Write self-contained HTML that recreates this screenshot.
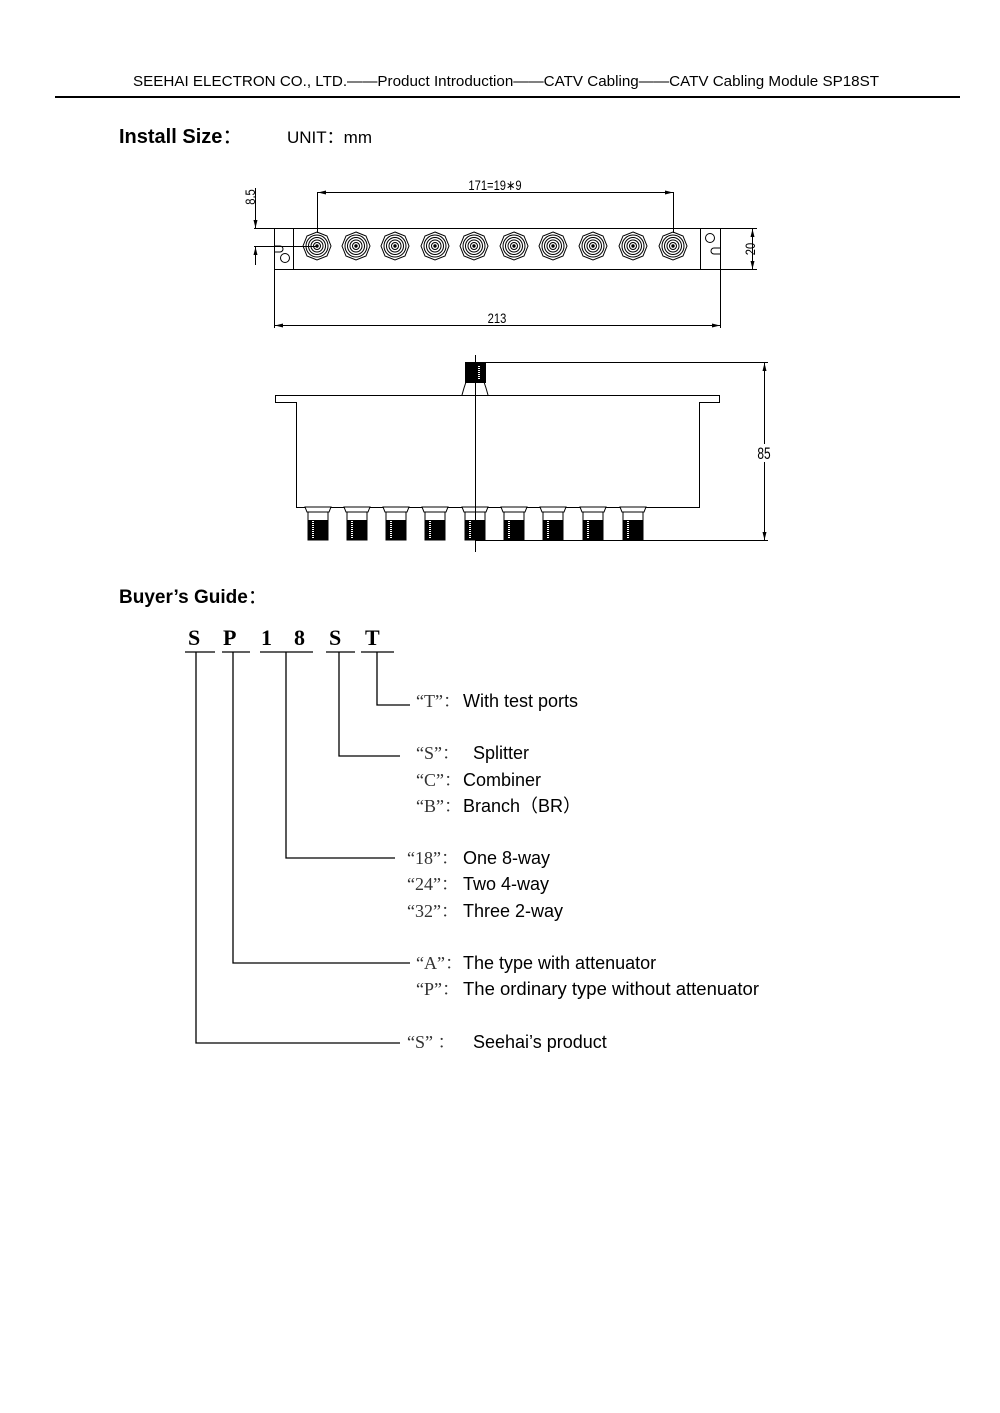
<!DOCTYPE html>
<html><head><meta charset="utf-8"><style>
html,body{margin:0;padding:0;background:#fff}
svg{display:block}
.s{font-family:"Liberation Sans","Noto Sans CJK SC",sans-serif;fill:#000}
.q{font-family:"Liberation Serif","Noto Serif CJK SC",serif;fill:#333}
.n{font-family:"Liberation Sans Narrow","Liberation Sans",sans-serif;fill:#000}
</style></head><body>
<svg width="1000" height="1413" viewBox="0 0 1000 1413" xmlns="http://www.w3.org/2000/svg">
<defs>
<g id="con" fill="none" stroke="#000" stroke-width="1">
<polygon points="0,-14 10,-10 14,0 10,10 0,14 -10,10 -14,0 -10,-10"/>
<circle r="11"/><circle r="8.5"/><circle r="6"/><circle r="3.5"/><circle r="1.2" fill="#000"/>
</g>
<g id="bc">
<path d="M-13,507 L13,507 L11,512 L-11,512 Z" fill="#fff" stroke="#000"/>
<rect x="-10" y="512" width="20" height="28" fill="#fff" stroke="#000"/>
<rect x="-10" y="520" width="20" height="20" fill="#000"/>
<line x1="-5" y1="521" x2="-5" y2="538" stroke="#fff" stroke-width="2" stroke-dasharray="1,1"/>
</g>
<marker id="ar" markerWidth="8" markerHeight="6" refX="8" refY="3" orient="auto-start-reverse"><path d="M0,1 L8,3 L0,5 Z" fill="#000"/></marker>
</defs>
<text x="506" y="86" text-anchor="middle" class="s" font-size="15" textLength="746" lengthAdjust="spacingAndGlyphs">SEEHAI ELECTRON CO., LTD.——Product Introduction——CATV Cabling——CATV Cabling Module SP18ST</text>
<line x1="55" y1="97" x2="960" y2="97" stroke="#000" stroke-width="2"/>
<text x="119" y="143" class="s" font-size="20" font-weight="bold">Install Size<tspan font-weight="normal">：</tspan></text>
<text x="287" y="143" class="s" font-size="17">UNIT：mm</text>

<!-- top view -->
<g stroke="#000" fill="none" stroke-width="1">
<rect x="274.5" y="228.5" width="446" height="41"/>
<line x1="293.5" y1="228" x2="293.5" y2="269"/>
<line x1="700.5" y1="228" x2="700.5" y2="269"/>
<circle cx="285" cy="258" r="4.5"/>
<circle cx="710" cy="238" r="4.5"/>
<path d="M274,246 h6 a3,3 0 0 1 0,6 h-6"/>
<path d="M720,248 h-6 a3,3 0 0 0 0,6 h6"/>
<line x1="317.5" y1="192" x2="317.5" y2="233"/>
<line x1="673.5" y1="192" x2="673.5" y2="233"/>
<line x1="318" y1="192.5" x2="673" y2="192.5" marker-start="url(#ar)" marker-end="url(#ar)"/>
<line x1="274.5" y1="270" x2="274.5" y2="328"/>
<line x1="720.5" y1="270" x2="720.5" y2="328"/>
<line x1="275" y1="325.5" x2="720" y2="325.5" marker-start="url(#ar)" marker-end="url(#ar)"/>
<line x1="721" y1="228.5" x2="757" y2="228.5"/>
<line x1="721" y1="269.5" x2="757" y2="269.5"/>
<line x1="752.5" y1="229" x2="752.5" y2="269" marker-start="url(#ar)" marker-end="url(#ar)"/>
<line x1="254" y1="228.5" x2="274" y2="228.5"/>
<line x1="254" y1="246.5" x2="317" y2="246.5"/>
<line x1="255.5" y1="188" x2="255.5" y2="228" marker-end="url(#ar)"/>
<line x1="255.5" y1="265" x2="255.5" y2="247" marker-end="url(#ar)"/>
</g>
<use href="#con" x="317" y="246"/><use href="#con" x="356" y="246"/><use href="#con" x="395" y="246"/><use href="#con" x="435" y="246"/><use href="#con" x="474" y="246"/><use href="#con" x="514" y="246"/><use href="#con" x="553" y="246"/><use href="#con" x="593" y="246"/><use href="#con" x="633" y="246"/><use href="#con" x="673" y="246"/>
<text x="495" y="190" text-anchor="middle" class="n" font-size="14" transform="translate(495 0) scale(0.8 1) translate(-495 0)">171=19∗9</text>
<text x="497" y="323" text-anchor="middle" class="n" font-size="14" transform="translate(497 0) scale(0.8 1) translate(-497 0)">213</text>
<text x="0" y="0" text-anchor="middle" class="n" font-size="14" transform="translate(255 197) rotate(-90) scale(0.8 1)">8.5</text>
<text x="0" y="0" text-anchor="middle" class="n" font-size="14" transform="translate(755 249) rotate(-90) scale(0.8 1)">20</text>

<!-- side view -->
<g stroke="#000" fill="#fff" stroke-width="1">
<path d="M275.5,395.5 H719.5 V402.5 H699.5 V507.5 H296.5 V402.5 H275.5 Z"/>
<path d="M462,395 L464,388 L466,382 H484 L486,388 L488,395"/>
<rect x="465.5" y="362.5" width="20" height="20" fill="#000"/>
<line x1="485" y1="362.5" x2="768" y2="362.5"/>
<line x1="476" y1="540.5" x2="768" y2="540.5"/>
<line x1="764.5" y1="363" x2="764.5" y2="540" marker-start="url(#ar)" marker-end="url(#ar)"/>
</g>
<line x1="479" y1="366" x2="479" y2="380" stroke="#fff" stroke-width="2" stroke-dasharray="1,1"/>
<use href="#bc" x="318"/><use href="#bc" x="357"/><use href="#bc" x="396"/><use href="#bc" x="435"/><use href="#bc" x="475"/><use href="#bc" x="514"/><use href="#bc" x="553"/><use href="#bc" x="593"/><use href="#bc" x="633"/>
<line x1="475.5" y1="355" x2="475.5" y2="552" stroke="#000"/>
<rect x="755" y="444" width="18" height="18" fill="#fff"/>
<text x="0" y="0" text-anchor="middle" class="n" font-size="17" transform="translate(764 459) scale(0.7 1)">85</text>

<!-- buyer's guide -->
<text x="119" y="603" class="s" font-size="19" font-weight="bold">Buyer’s Guide<tspan font-weight="normal">：</tspan></text>
<g font-family="Liberation Serif,serif" font-size="22" font-weight="bold">
<text x="188" y="645">S</text><text x="223" y="645">P</text><text x="261" y="645">1</text><text x="294" y="645">8</text><text x="329" y="645">S</text><text x="365" y="645">T</text>
</g>
<g stroke="#000" fill="none" stroke-width="1.3">
<line x1="185" y1="652" x2="215" y2="652"/><line x1="222" y1="652" x2="250" y2="652"/><line x1="260" y1="652" x2="313" y2="652"/><line x1="326" y1="652" x2="355" y2="652"/><line x1="361" y1="652" x2="394" y2="652"/>
<polyline points="377,652 377,705 410,705"/>
<polyline points="339,652 339,756 400,756"/>
<polyline points="286,652 286,858 395,858"/>
<polyline points="233,652 233,963 410,963"/>
<polyline points="196,652 196,1043 400,1043"/>
</g>
<g font-size="18">
<text x="416" y="707" class="q">“T”：</text><text x="463" y="707" class="s">With test ports</text>
<text x="416" y="759" class="q">“S”：</text><text x="473" y="759" class="s">Splitter</text>
<text x="416" y="786" class="q">“C”：</text><text x="463" y="786" class="s">Combiner</text>
<text x="416" y="812" class="q">“B”：</text><text x="463" y="812" class="s">Branch（BR）</text>
<text x="407" y="864" class="q">“18”：</text><text x="463" y="864" class="s">One 8-way</text>
<text x="407" y="890" class="q">“24”：</text><text x="463" y="890" class="s">Two 4-way</text>
<text x="407" y="917" class="q">“32”：</text><text x="463" y="917" class="s">Three 2-way</text>
<text x="416" y="969" class="q">“A”：</text><text x="463" y="969" class="s">The type with attenuator</text>
<text x="416" y="995" class="q">“P”：</text><text x="463" y="995" class="s" textLength="296" lengthAdjust="spacingAndGlyphs">The ordinary type without attenuator</text>
<text x="407" y="1048" class="q">“S” ：</text><text x="473" y="1048" class="s">Seehai’s product</text>
</g>
</svg>
</body></html>
